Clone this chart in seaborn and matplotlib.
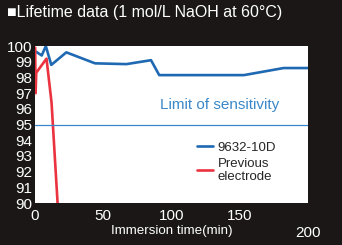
import numpy as np
import pandas as pd
import matplotlib
matplotlib.use("Agg")
import matplotlib.pyplot as plt
import seaborn as sns

# ── Data ──────────────────────────────────────────────────────────────────────
NEW_T   = [0.7, 5, 8, 12, 23, 44, 67, 85, 91, 153, 182, 200]
NEW_PCT = [99.65, 99.4, 100.0, 98.8, 99.6, 98.9, 98.85, 99.1, 98.15, 98.15, 98.6, 98.6]
OLD_T   = [0.2, 0.5, 1.0, 8.5, 12.2, 18.0]
OLD_PCT = [99.9, 97.0, 98.3, 99.2, 96.4, 88.0]
LIMIT   = 95
X_TICKS = [0, 50, 100, 150]
Y_TICKS = list(range(90, 101))

BG   = "#1a1716"
BLUE = "#1f69b3"
RED  = "#eb3340"

sns.set_theme(style="white")
plt.rcParams["font.family"] = ["Liberation Sans", "DejaVu Sans"]

df = pd.concat([
    pd.DataFrame({"t": NEW_T, "pct": NEW_PCT, "series": "9632-10D"}),
    pd.DataFrame({"t": OLD_T, "pct": OLD_PCT, "series": "Previous\nelectrode"}),
])

fig = plt.figure(figsize=(3.42, 2.45), dpi=100, facecolor=BG)
ax = fig.add_axes([0.102, 0.171, 0.799, 0.641])
ax.set_facecolor("white")

sns.lineplot(data=df, x="t", y="pct", hue="series", estimator=None, sort=False,
             palette={"9632-10D": BLUE, "Previous\nelectrode": RED},
             linewidth=1.9, ax=ax)
ax.axhline(LIMIT, color="#3a88c9", linewidth=0.9)
ax.text(135, 96.25, "Limit of sensitivity", color="#3a88c9", fontsize=11,
        ha="center", va="center")

ax.set_xlim(0, 200)
ax.set_ylim(90, 100)
ax.set_xticks(X_TICKS)
ax.set_yticks(Y_TICKS)
ax.tick_params(direction="in", length=3, width=0.8, color="#555555",
               labelcolor="white", labelsize=11, pad=2)
ax.tick_params(axis="x", pad=4)
for s in ax.spines.values():
    s.set_visible(False)
ax.set_xlabel("Immersion time(min)", color="white", fontsize=9.6, labelpad=2)
ax.set_ylabel("")
ax.text(200, 88.1, "200", color="white", fontsize=11, ha="center", va="center",
        clip_on=False)

leg = ax.legend(loc="upper left", bbox_to_anchor=(0.585, 0.41), frameon=False,
                fontsize=9.5, handlelength=1.2, handletextpad=0.35,
                labelspacing=0.3, borderaxespad=0, borderpad=0.2)
for line in leg.get_lines():
    line.set_linewidth(1.9)

fig.text(0.02, 0.95, "\u25a0Lifetime data (1 mol/L NaOH at 60\u00b0C)", color="white",
         fontsize=11.5, ha="left", va="center")

fig.savefig("out.png", dpi=100, facecolor=BG)
